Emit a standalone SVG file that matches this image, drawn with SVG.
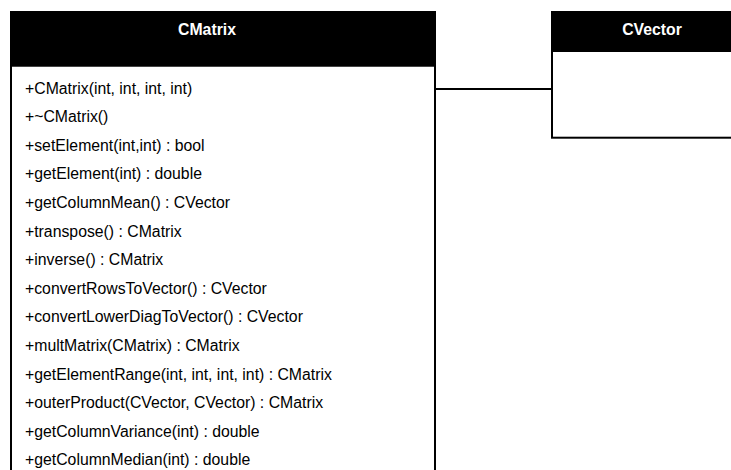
<svg xmlns="http://www.w3.org/2000/svg" width="731" height="470" viewBox="0 0 731 470">
<style>
.box{fill:#fff;stroke:#000;stroke-width:2}
.hdr{fill:#000}
.title{font-family:"Liberation Sans",Arial,sans-serif;font-size:15.8px;font-weight:bold;fill:#fff;text-anchor:middle}
.op{font-family:"Liberation Sans",Arial,sans-serif;font-size:15.8px;fill:#000}
.conn{stroke:#000;stroke-width:2;fill:none}
</style>
<rect width="731" height="470" fill="#fff"/>
<g id="connectors">
<line class="conn" x1="435" y1="89" x2="552" y2="89"/>
</g>
<g id="CMatrix">
<rect class="box" x="11" y="12" width="424" height="480"/>
<rect class="hdr" x="10" y="11" width="426" height="55"/>
<line x1="12" y1="66.5" x2="434" y2="66.5" stroke="#444" stroke-width="1"/>
<text class="title" x="207" y="35">CMatrix</text>
<text class="op" x="25" y="93.5">+CMatrix(int, int, int, int)</text>
<text class="op" x="25" y="122.1">+~CMatrix()</text>
<text class="op" x="25" y="150.7">+setElement(int,int) : bool</text>
<text class="op" x="25" y="179.3">+getElement(int) : double</text>
<text class="op" x="25" y="207.9">+getColumnMean() : CVector</text>
<text class="op" x="25" y="236.5">+transpose() : CMatrix</text>
<text class="op" x="25" y="265.1">+inverse() : CMatrix</text>
<text class="op" x="25" y="293.7">+convertRowsToVector() : CVector</text>
<text class="op" x="25" y="322.3">+convertLowerDiagToVector() : CVector</text>
<text class="op" x="25" y="350.9">+multMatrix(CMatrix) : CMatrix</text>
<text class="op" x="25" y="379.5">+getElementRange(int, int, int, int) : CMatrix</text>
<text class="op" x="25" y="408.1">+outerProduct(CVector, CVector) : CMatrix</text>
<text class="op" x="25" y="436.7">+getColumnVariance(int) : double</text>
<text class="op" x="25" y="465.3">+getColumnMedian(int) : double</text>
</g>
<g id="CVector">
<rect class="box" x="552" y="12" width="200" height="125.7"/>
<rect class="hdr" x="551" y="11" width="200" height="41"/>
<text class="title" x="652" y="35">CVector</text>
</g>
</svg>
